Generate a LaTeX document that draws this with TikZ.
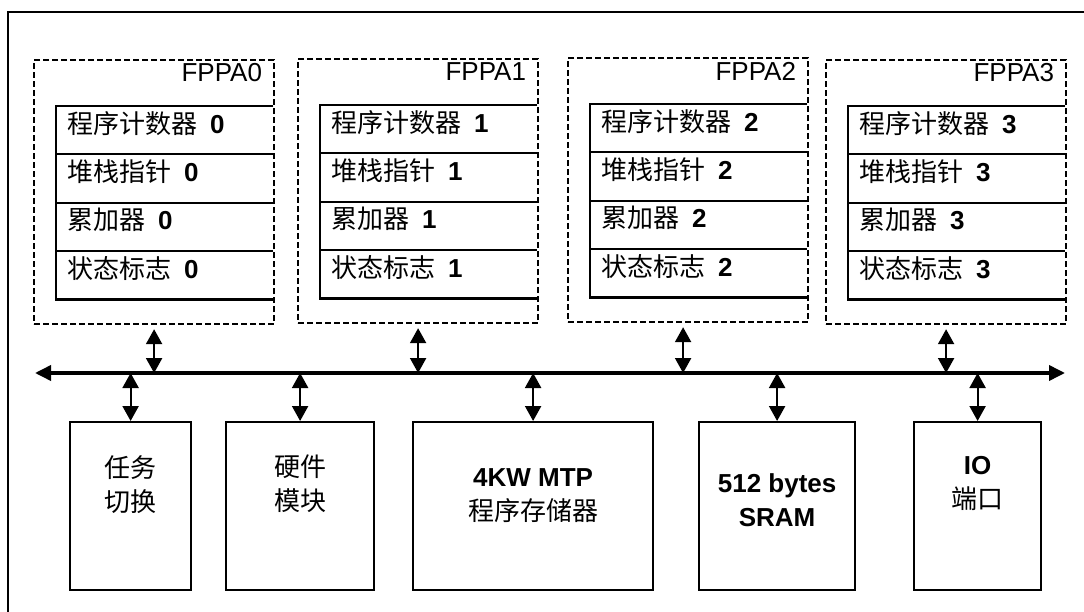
\documentclass[tikz,border=0pt]{standalone}
\usepackage{fontspec}
\setmainfont{Liberation Sans}
\newfontfamily\cjk{Noto Sans CJK SC}
\usetikzlibrary{positioning,arrows.meta}
\newcommand{\zh}[1]{{\cjk #1}}
\tikzset{
  fppa/.style = {draw, line width=2.2pt, dash pattern=on 6pt off 3pt,
                 minimum width=240pt, minimum height=264pt,
                 inner sep=0pt, anchor=north west},
  fppatag/.style = {anchor=east, inner sep=0pt},
  reg/.style = {minimum width=217pt, minimum height=48pt,
                text width=195pt, inner xsep=11pt, inner ysep=0pt,
                align=left, text height=18pt, text depth=12pt},
  regline/.style = {line width=2.2pt},
  block/.style = {draw, line width=2.2pt, minimum height=168pt,
                  inner sep=0pt, anchor=north west},
  blocktext/.style = {align=center, inner sep=0pt},
  link/.style = {line width=2.2pt,
                 {Triangle[width=16pt,length=15pt]}-{Triangle[width=16pt,length=15pt]}},
  bus/.style = {line width=3.6pt,
                {Triangle[width=15pt,length=16pt]}-{Triangle[width=15pt,length=16pt]}}
}

\begin{document}
\begin{tikzpicture}[x=1pt, y=-1pt, font=\fontsize{26pt}{34pt}\selectfont]
	\useasboundingbox (0,0) rectangle (1084,612);

	% Frame
	\draw[line width=2.2pt] (8,612) -- (8,12) -- (1084,12);

	% FPPA0
	\node[fppa] (fppa0) at (33,59) {};
	\node[fppatag] (tag0) at ([xshift=-13pt,yshift=-14pt]fppa0.north east) {FPPA0};
	\node[reg, anchor=north west] (pc0) at ([xshift=23pt,yshift=-47pt]fppa0.north west) {\zh{程序计数器}\enspace\textbf{0}};
	\node[reg, below=0pt of pc0] (sp0) {\zh{堆栈指针}\enspace\textbf{0}};
	\node[reg, below=0pt of sp0] (acc0) {\zh{累加器}\enspace\textbf{0}};
	\node[reg, below=0pt of acc0] (flag0) {\zh{状态标志}\enspace\textbf{0}};
	\draw[regline] (pc0.north east) -- (pc0.north west) -- (flag0.south west) -- (flag0.south east);
	\draw[regline] (sp0.north west) -- (sp0.north east);
	\draw[regline] (acc0.north west) -- (acc0.north east);
	\draw[regline] (flag0.north west) -- (flag0.north east);

	% FPPA1
	\node[fppa] (fppa1) at (297,58) {};
	\node[fppatag] (tag1) at ([xshift=-13pt,yshift=-14pt]fppa1.north east) {FPPA1};
	\node[reg, anchor=north west] (pc1) at ([xshift=23pt,yshift=-47pt]fppa1.north west) {\zh{程序计数器}\enspace\textbf{1}};
	\node[reg, below=0pt of pc1] (sp1) {\zh{堆栈指针}\enspace\textbf{1}};
	\node[reg, below=0pt of sp1] (acc1) {\zh{累加器}\enspace\textbf{1}};
	\node[reg, below=0pt of acc1] (flag1) {\zh{状态标志}\enspace\textbf{1}};
	\draw[regline] (pc1.north east) -- (pc1.north west) -- (flag1.south west) -- (flag1.south east);
	\draw[regline] (sp1.north west) -- (sp1.north east);
	\draw[regline] (acc1.north west) -- (acc1.north east);
	\draw[regline] (flag1.north west) -- (flag1.north east);

	% FPPA2
	\node[fppa] (fppa2) at (567,57) {};
	\node[fppatag] (tag2) at ([xshift=-13pt,yshift=-14pt]fppa2.north east) {FPPA2};
	\node[reg, anchor=north west] (pc2) at ([xshift=23pt,yshift=-47pt]fppa2.north west) {\zh{程序计数器}\enspace\textbf{2}};
	\node[reg, below=0pt of pc2] (sp2) {\zh{堆栈指针}\enspace\textbf{2}};
	\node[reg, below=0pt of sp2] (acc2) {\zh{累加器}\enspace\textbf{2}};
	\node[reg, below=0pt of acc2] (flag2) {\zh{状态标志}\enspace\textbf{2}};
	\draw[regline] (pc2.north east) -- (pc2.north west) -- (flag2.south west) -- (flag2.south east);
	\draw[regline] (sp2.north west) -- (sp2.north east);
	\draw[regline] (acc2.north west) -- (acc2.north east);
	\draw[regline] (flag2.north west) -- (flag2.north east);

	% FPPA3
	\node[fppa] (fppa3) at (825,59) {};
	\node[fppatag] (tag3) at ([xshift=-13pt,yshift=-14pt]fppa3.north east) {FPPA3};
	\node[reg, anchor=north west] (pc3) at ([xshift=23pt,yshift=-47pt]fppa3.north west) {\zh{程序计数器}\enspace\textbf{3}};
	\node[reg, below=0pt of pc3] (sp3) {\zh{堆栈指针}\enspace\textbf{3}};
	\node[reg, below=0pt of sp3] (acc3) {\zh{累加器}\enspace\textbf{3}};
	\node[reg, below=0pt of acc3] (flag3) {\zh{状态标志}\enspace\textbf{3}};
	\draw[regline] (pc3.north east) -- (pc3.north west) -- (flag3.south west) -- (flag3.south east);
	\draw[regline] (sp3.north west) -- (sp3.north east);
	\draw[regline] (acc3.north west) -- (acc3.north east);
	\draw[regline] (flag3.north west) -- (flag3.north east);

	% Bus
	\coordinate (busW) at (35,373);
	\coordinate (busE) at (1065,373);
	\draw[bus] (busW) -- (busE);

	% Blocks
	\node[block, minimum width=121pt] (task) at (69,421) {};
	\node[blocktext] (tasktxt) at ([yshift=-64pt]task.north) {\zh{任务}\\\zh{切换}};
	\node[block, minimum width=148pt] (hw) at (225,421) {};
	\node[blocktext] (hwtxt) at ([yshift=-63pt]hw.north) {\zh{硬件}\\\zh{模块}};
	\node[block, minimum width=240pt] (mtp) at (412,421) {};
	\node[blocktext] (mtptxt) at ([yshift=-75pt]mtp.north) {\textbf{4KW MTP}\\\zh{程序存储器}};
	\node[block, minimum width=156pt] (sram) at (698,421) {};
	\node[blocktext] (sramtxt) at ([yshift=-79pt]sram.north) {\textbf{512 bytes}\\\textbf{SRAM}};
	\node[block, minimum width=127pt] (io) at (913,421) {};
	\node[blocktext] (iotxt) at ([yshift=-62pt]io.north) {\textbf{IO}\\\zh{端口}};

	% Links
	\draw[link, shorten <=4pt] (fppa0.south) -- (fppa0.south |- busW);
	\draw[link, shorten <=4pt] (fppa1.south) -- (fppa1.south |- busW);
	\draw[link, shorten <=4pt] ([xshift=-5pt]fppa2.south) -- ([xshift=-5pt]fppa2.south |- busW);
	\draw[link, shorten <=4pt] (fppa3.south) -- (fppa3.south |- busW);
	\draw[link] (task.north |- busW) -- (task.north);
	\draw[link] (hw.north |- busW) -- (hw.north);
	\draw[link] (mtp.north |- busW) -- (mtp.north);
	\draw[link] (sram.north |- busW) -- (sram.north);
	\draw[link] (io.north |- busW) -- (io.north);

\end{tikzpicture}
\end{document}
